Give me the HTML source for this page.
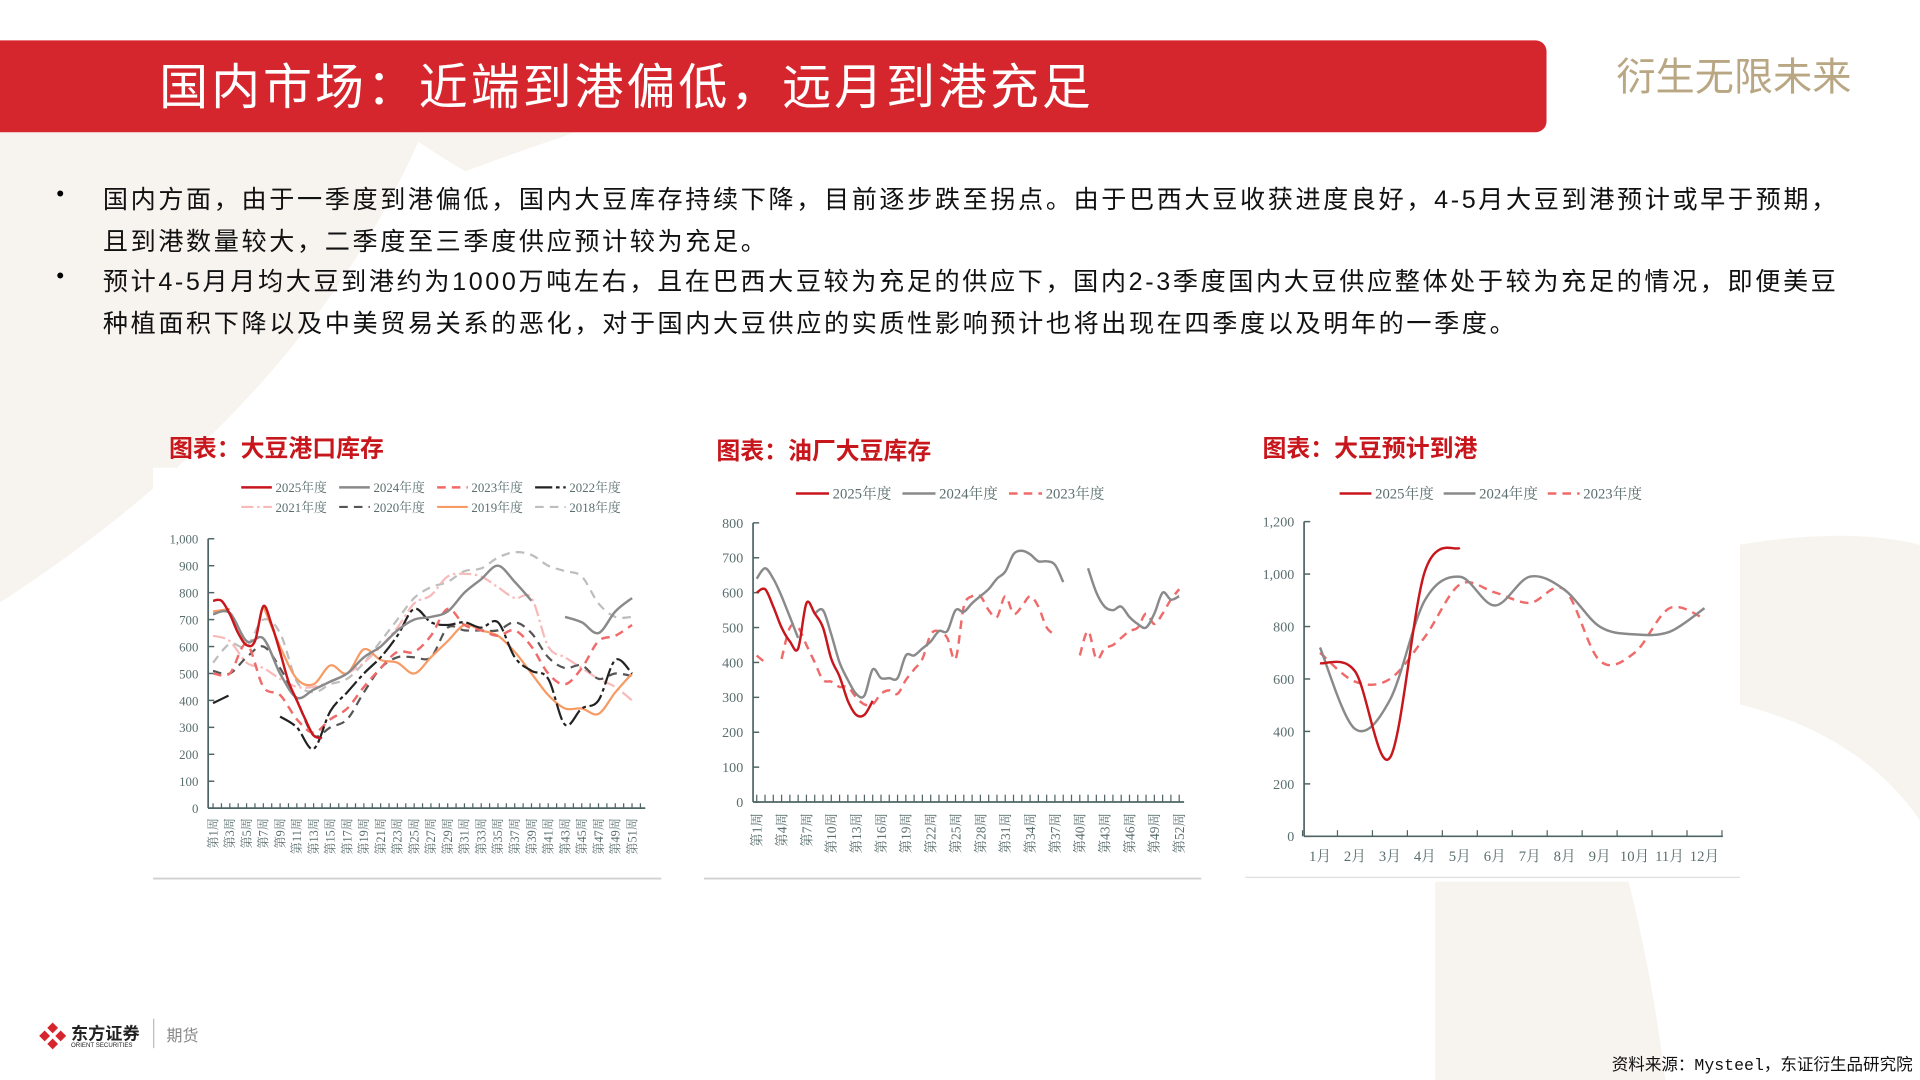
<!DOCTYPE html>
<html><head><meta charset="utf-8">
<style>
html,body{margin:0;padding:0;background:#fff;overflow:hidden;}
#wrap{position:absolute;left:0;top:0;width:1568px;height:882px;transform:scale(1.22449);transform-origin:0 0;font-family:"Liberation Sans","Noto Sans CJK SC",sans-serif;}
.abs{position:absolute;}
.bul{position:absolute;left:84px;font-size:20.5px;letter-spacing:2.15px;color:#111;line-height:33.5px;white-space:nowrap;}
.dot{position:absolute;left:46px;font-size:18px;}
.ctitle{position:absolute;font-size:19.5px;font-weight:bold;color:#c8161d;font-family:"Liberation Sans","Noto Sans CJK SC",sans-serif;}
svg text{font-family:"Liberation Serif","Noto Serif CJK SC",serif;}
</style></head><body>
<div id="wrap">
<svg class="abs" style="left:0;top:0" width="1568" height="882">
<path d="M0,108 L345,108 Q250,330 0,492 Z" fill="#f7f4ef"/>
<path d="M330,108 L470,108 Q420,125 380,140 Q355,125 330,108Z" fill="#f7f4ef"/>
<path d="M1420,445 Q1510,430 1568,445 L1568,670 Q1520,600 1420,575 Z" fill="#f7f4ef"/>
<path d="M1172,720 L1330,720 Q1350,800 1360,882 L1172,882 Z" fill="#f7f4ef"/>
</svg>
<div class="abs" style="left:0;top:33px;width:1263px;height:75px;background:#d6262d;border-radius:0 9px 9px 0"></div>
<div class="abs" style="left:130px;top:39px;font-size:40px;letter-spacing:2.4px;color:#fff;white-space:nowrap;font-family:'Liberation Sans','Noto Sans CJK SC',sans-serif">国内市场：近端到港偏低，远月到港充足</div>
<div class="abs" style="left:1320px;top:38px;font-size:32px;color:#b9a784">衍生无限未来</div>

<div class="dot" style="top:148px">•</div>
<div class="bul" style="top:147px">国内方面，由于一季度到港偏低，国内大豆库存持续下降，目前逐步跌至拐点。由于巴西大豆收获进度良好，4-5月大豆到港预计或早于预期，<br>且到港数量较大，二季度至三季度供应预计较为充足。</div>
<div class="dot" style="top:215px">•</div>
<div class="bul" style="top:214px">预计4-5月月均大豆到港约为1000万吨左右，且在巴西大豆较为充足的供应下，国内2-3季度国内大豆供应整体处于较为充足的情况，即便美豆<br>种植面积下降以及中美贸易关系的恶化，对于国内大豆供应的实质性影响预计也将出现在四季度以及明年的一季度。</div>

<div class="ctitle" style="left:138px;top:350px">图表：大豆港口库存</div>
<div class="ctitle" style="left:585px;top:352px">图表：油厂大豆库存</div>
<div class="ctitle" style="left:1031px;top:350px">图表：大豆预计到港</div>

<svg id="charts" class="abs" style="left:0;top:0" width="1568" height="882">
<rect x="125" y="382" width="415" height="335" fill="#fff"/>
<rect x="575" y="382" width="406" height="335" fill="#fff"/>
<rect x="1017" y="382" width="404" height="335" fill="#fff"/>
<line x1="125" y1="717.5" x2="540" y2="717.5" stroke="#d0d0d0" stroke-width="1.5"/>
<line x1="575" y1="717.5" x2="981" y2="717.5" stroke="#d0d0d0" stroke-width="1.5"/>
<line x1="1017" y1="716.5" x2="1421" y2="716.5" stroke="#e0e0e0" stroke-width="1"/>
</svg>

<div class="abs" style="left:30px;top:832px;width:110px;height:30px">
<svg width="26" height="26" style="position:absolute;left:0;top:1px"><path d="M13,2 L24,13 L13,24 L2,13Z" fill="#d6262d"/><path d="M7,7 L19,19 M19,7 L7,19" stroke="#fff" stroke-width="3"/></svg>
<div class="abs" style="left:28px;top:2px;font-size:14px;font-weight:bold;color:#222;white-space:nowrap">东方证券</div>
<div class="abs" style="left:28px;top:19px;font-size:5px;color:#222;white-space:nowrap">ORIENT SECURITIES</div>
<div class="abs" style="left:95px;top:0;width:1px;height:24px;background:#bbb"></div>
<div class="abs" style="left:106px;top:3px;font-size:13px;color:#888;white-space:nowrap">期货</div>
</div>
<div class="abs" style="right:6px;top:858px;font-size:13.5px;color:#111;font-family:'Liberation Mono','Noto Sans CJK SC',monospace">资料来源：Mysteel，东证衍生品研究院</div>
</div>

<script>
// ===== Chart 1: 大豆港口库存 (weeks 1,3,...,51) =====
const c1Weeks = [1,3,5,7,9,11,13,15,17,19,21,23,25,27,29,31,33,35,37,39,41,43,45,47,49,51];
const c1YTicks = [0,100,200,300,400,500,600,700,800,900,1000];
const c1WeekLabels = ["第1周","第3周","第5周","第7周","第9周","第11周","第13周","第15周","第17周","第19周","第21周","第23周","第25周","第27周","第29周","第31周","第33周","第35周","第37周","第39周","第41周","第43周","第45周","第47周","第49周","第51周"];
const c1WeeksDaily2025 = [1,2,3,4,5,6,7,8,9,10,11,12,13,14];
const s2025 = [770,770,720,650,605,620,750,680,580,470,400,330,270,260];
const s2024 = [720,725,620,630,500,410,440,470,500,560,600,660,700,710,730,800,850,900,840,770,null,710,690,650,730,780];
const s2023 = [500,500,610,450,420,330,280,330,370,450,520,580,580,640,740,680,660,640,660,600,500,460,520,620,640,680];
const s2022 = [390,420,null,null,340,300,220,360,430,500,560,640,740,690,680,690,670,690,560,510,480,310,370,400,550,500];
const s2021 = [640,620,540,520,480,450,450,470,500,540,600,670,760,790,860,870,860,820,780,780,600,560,520,480,450,400];
const s2020 = [510,500,560,600,520,400,270,300,330,430,520,560,560,560,670,660,660,660,690,650,560,520,530,480,500,490];
const s2019 = [730,740,null,750,600,480,460,530,500,590,550,540,500,560,620,680,660,640,580,500,420,370,370,350,430,500];
const s2018 = [540,610,600,700,650,470,430,460,480,540,620,700,780,820,840,880,890,930,950,940,900,880,860,760,710,710];

// ===== Chart 2: 油厂大豆库存 (weekly) =====
const c2YTicks = [0,100,200,300,400,500,600,700,800];
const c2LabelWeeks = [1,4,7,10,13,16,19,22,25,28,31,34,37,40,43,46,49,52];
const c2Weeks2025 = [1,2,3,4,5,6,7,8,9,10,11,12,13,14,15];
const o2025 = [600,610,560,500,460,440,570,540,500,410,360,290,250,250,290];
const o2024 = [640,670,640,590,530,470,null,540,550,480,400,350,310,305,380,355,355,355,420,420,440,460,490,490,550,545,570,590,610,640,660,710,720,710,690,690,680,630,null,null,670,600,560,550,560,530,510,500,540,600,580,590];
const o2023 = [420,400,null,410,500,500,450,400,350,345,330,330,300,280,280,310,320,310,350,380,410,480,490,470,410,560,590,590,550,530,590,540,560,590,560,500,480,null,null,420,490,410,440,450,470,490,500,540,510,540,580,610];

// ===== Chart 3: 大豆预计到港 (monthly) =====
const c3Months = ["1月","2月","3月","4月","5月","6月","7月","8月","9月","10月","11月","12月"];
const c3YTicks = [0,200,400,600,800,1000,1200];
const a2025 = [660,630,300,1010,1100];
const a2024 = [720,410,520,900,990,880,990,940,800,770,780,870];
const a2023 = [700,590,600,760,960,930,890,940,670,700,870,830];

const NS="http://www.w3.org/2000/svg";
const svg=document.getElementById('charts');
function el(tag,attrs,parent){const e=document.createElementNS(NS,tag);for(const k in attrs)e.setAttribute(k,attrs[k]);(parent||svg).appendChild(e);return e;}
function fmt(v){return v>=1000?String(v).replace(/(\d)(\d{3})$/,'$1,$2'):String(v);}
function pathFor(xs,ys){let d='';let seg=[];const flush=()=>{if(seg.length>1){d+='M'+seg[0][0]+','+seg[0][1];for(let i=0;i<seg.length-1;i++){const p0=seg[i-1]||seg[i],p1=seg[i],p2=seg[i+1],p3=seg[i+2]||p2;const c1x=p1[0]+(p2[0]-p0[0])/6,c1y=p1[1]+(p2[1]-p0[1])/6,c2x=p2[0]-(p3[0]-p1[0])/6,c2y=p2[1]-(p3[1]-p1[1])/6;d+=` C${c1x.toFixed(1)},${c1y.toFixed(1)} ${c2x.toFixed(1)},${c2y.toFixed(1)} ${p2[0].toFixed(1)},${p2[1].toFixed(1)}`;}}seg=[];};
for(let i=0;i<ys.length;i++){if(ys[i]==null){flush();continue;}seg.push([xs[i],ys[i]]);}flush();return d;}

function drawAxes(o){
 const g=el('g',{});
 
 
 el('line',{x1:o.x0,y1:o.yTop,x2:o.x0,y2:o.yBot,stroke:'#4f6464','stroke-width':1.4},g);
 el('line',{x1:o.x0,y1:o.yBot,x2:o.xEnd,y2:o.yBot,stroke:'#4f6464','stroke-width':1.4},g);
 o.yTicks.forEach(v=>{const y=o.sy(v);el('line',{x1:o.x0,y1:y,x2:o.x0+5,y2:y,stroke:'#4f6464','stroke-width':1.2},g);
  const t=el('text',{x:o.x0-8,y:y+4,'text-anchor':'end','font-size':o.fs,fill:'#5b6e6e'},g);t.textContent=fmt(v);
  
  });
 return g;}
function drawSeries(xs,ys,sx,sy,style,name){const p=el('path',Object.assign({d:pathFor(xs.map(sx),ys.map(v=>v==null?null:sy(v))),fill:'none','stroke-linejoin':'round','stroke-linecap':'butt'},style));
 
 }
function legend(x,y,style,label,fs,len){const g=el('g',{});
 
 
 el('line',Object.assign({x1:x,y1:y,x2:x+len,y2:y},style),g);const t=el('text',{x:x+len+3,y:y+4,'font-size':fs,fill:'#5b6e6e'},g);t.textContent=label;}

const ST={
 r:{stroke:'#c8161d','stroke-width':2},
 g:{stroke:'#8a8a8a','stroke-width':2},
 rd:{stroke:'#f06a6a','stroke-width':2,'stroke-dasharray':'7,5'},
 k:{stroke:'#222','stroke-width':1.8,'stroke-dasharray':'14,3,3,3'},
 pk:{stroke:'#f8b9b9','stroke-width':1.8,'stroke-dasharray':'10,3,2,3'},
 kd:{stroke:'#555','stroke-width':1.8,'stroke-dasharray':'7,5'},
 o:{stroke:'#f79a63','stroke-width':1.8},
 ld:{stroke:'#bdbdbd','stroke-width':1.8,'stroke-dasharray':'7,5'}
};

// Chart 1
(function(){
 const x0=170,yBot=660,yTop=440,xa=174,xb=523;
 const sx=w=>xa+(w-1)*(xb-xa)/51; const sy=v=>yBot-v*(yBot-yTop)/1000;
 drawAxes({name:'chart1',x0,yTop,yBot,xEnd:527,yTicks:c1YTicks,sy,fs:10.5});
 for(let w=1;w<=52;w++){el('line',{x1:sx(w),y1:yBot,x2:sx(w),y2:yBot-4,stroke:'#4f6464','stroke-width':1});}
 c1Weeks.forEach((w,i)=>{const t=el('text',{transform:`translate(${sx(w)+3.5},${yBot+8}) rotate(-90)`,'text-anchor':'end','font-size':10,fill:'#5b6e6e'});t.textContent=c1WeekLabels[i];
  
  });
 drawSeries(c1Weeks,s2018,sx,sy,ST.ld,'series-2018');
 drawSeries(c1Weeks,s2021,sx,sy,ST.pk,'series-2021');
 drawSeries(c1Weeks,s2020,sx,sy,ST.kd,'series-2020');
 drawSeries(c1Weeks,s2019,sx,sy,ST.o,'series-2019');
 drawSeries(c1Weeks,s2023,sx,sy,ST.rd,'series-2023');
 drawSeries(c1Weeks,s2022,sx,sy,ST.k,'series-2022');
 drawSeries(c1Weeks,s2024,sx,sy,ST.g,'series-2024');
 drawSeries(c1WeeksDaily2025,s2025,sx,sy,ST.r,'series-2025');
 const L=[['2025年度',ST.r],['2024年度',ST.g],['2023年度',ST.rd],['2022年度',ST.k],['2021年度',ST.pk],['2020年度',ST.kd],['2019年度',ST.o],['2018年度',ST.ld]];
 L.forEach((l,i)=>legend(197+(i%4)*80,398+Math.floor(i/4)*16,l[1],l[0],10.5,25));
})();

// Chart 2
(function(){
 const x0=615,yBot=655,yTop=427,xa=618,xb=963;
 const sx=w=>xa+(w-1)*(xb-xa)/51; const sy=v=>yBot-v*(yBot-yTop)/800;
 drawAxes({name:'chart2',x0,yTop,yBot,xEnd:967,yTicks:c2YTicks,sy,fs:11.5});
 for(let w=1;w<=52;w++){el('line',{x1:sx(w),y1:yBot,x2:sx(w),y2:yBot-6,stroke:'#4f6464','stroke-width':1});}
 c2LabelWeeks.forEach(w=>{const t=el('text',{transform:`translate(${sx(w)+4},${yBot+9}) rotate(-90)`,'text-anchor':'end','font-size':11,fill:'#5b6e6e'});t.textContent='第'+w+'周';
  
  });
 const wk=o2024.map((_,i)=>i+1);
 drawSeries(wk,o2023,sx,sy,ST.rd,'series-2023');
 drawSeries(wk,o2024,sx,sy,ST.g,'series-2024');
 drawSeries(c2Weeks2025,o2025,sx,sy,ST.r,'series-2025');
 [['2025年度',ST.r],['2024年度',ST.g],['2023年度',ST.rd]].forEach((l,i)=>legend(650+i*87,403,l[1],l[0],12,27));
})();

// Chart 3
(function(){
 const x0=1065,yBot=683,yTop=426,xa=1078,xb=1392;
 const sx=m=>xa+(m-1)*(xb-xa)/11; const sy=v=>yBot-v*(yBot-yTop)/1200;
 drawAxes({name:'chart3',x0,yTop,yBot,xEnd:1407,yTicks:c3YTicks,sy,fs:11.5});
 for(let m=0;m<=12;m++){const x=sx(m+0.5);el('line',{x1:x,y1:yBot,x2:x,y2:yBot-5,stroke:'#4f6464','stroke-width':1});}
 c3Months.forEach((lab,i)=>{const t=el('text',{x:sx(i+1),y:yBot+20,'text-anchor':'middle','font-size':12,fill:'#5b6e6e'});t.textContent=lab;
  
  });
 const ms=c3Months.map((_,i)=>i+1);
 drawSeries(ms,a2023,sx,sy,ST.rd,'series-2023');
 drawSeries(ms,a2024,sx,sy,ST.g,'series-2024');
 drawSeries(ms.slice(0,a2025.length),a2025,sx,sy,ST.r,'series-2025');
 [['2025年度',ST.r],['2024年度',ST.g],['2023年度',ST.rd]].forEach((l,i)=>legend(1094+i*85,403,l[1],l[0],12,26));
})();
</script>
</body></html>
